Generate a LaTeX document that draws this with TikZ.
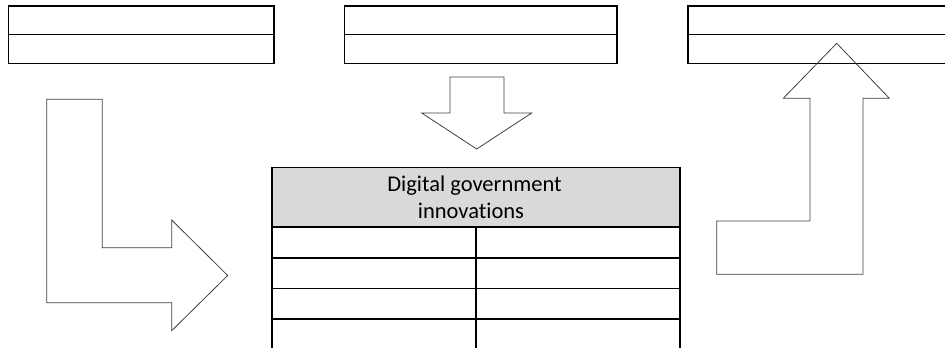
\documentclass[tikz,border=0pt]{standalone}
\usepackage{fontspec}
\setmainfont{Carlito}[Ligatures=NoCommon]
\definecolor{hdrgray}{HTML}{D9D9D9}
\definecolor{arrowline}{HTML}{404040}
\tikzset{
  tbl/.style={line width=1.6pt, black},
  blockarrow/.style={line width=0.8pt, draw=arrowline, line join=miter},
  hdrtext/.style={font=\fontsize{22.5}{27}\selectfont, anchor=base, inner sep=0pt}
}
\begin{document}
\begin{tikzpicture}[x=1pt,y=-1pt]
\useasboundingbox (0,0) rectangle (945,348);
\clip (0,0) rectangle (945,348);
% top tables
\draw[tbl] (8.5,6) rectangle (274,63.5);
\draw[tbl] (8.5,34.5) -- (274,34.5);
\draw[tbl] (344.5,6) rectangle (616.7,63.5);
\draw[tbl] (344.5,34.5) -- (616.7,34.5);
\draw[tbl] (960,6) -- (687.7,6) -- (687.7,63.5) -- (960,63.5);
\draw[tbl] (687.7,34.5) -- (960,34.5);
% central table
\fill[hdrgray] (271.7,167.3) rectangle (680,226.7);
\draw[tbl] (271.7,360) -- (271.7,167.3) -- (680,167.3) -- (680,360);
\draw[tbl] (271.7,226.7) -- (680,226.7);
\draw[tbl] (271.7,257.7) -- (680,257.7);
\draw[tbl] (271.7,288.3) -- (680,288.3);
\draw[tbl] (271.7,319) -- (680,319);
\draw[tbl] (475.7,226.7) -- (475.7,360);
\node[hdrtext] (hdr1) at (474.5,191.5) {Digital government};
\node[hdrtext] (hdr2) at (471,218.5) {innovations};
% down arrow
\draw[blockarrow] (450,77) -- (504,77) -- (504,113) -- (531.7,113) -- (476.7,149)
  -- (421.7,113) -- (450,113) -- cycle;
% left L arrow
\draw[blockarrow] (46.7,99.3) -- (102.3,99.3) -- (102.3,247.7) -- (171.7,247.7)
  -- (171.7,220) -- (227.7,275.5) -- (171.7,330.7) -- (171.7,302.7) -- (46.7,302.7) -- cycle;
% right up arrow
\draw[blockarrow] (716.7,274.3) -- (863,274.3) -- (863,98.3) -- (889.3,98.3)
  -- (836.7,43.3) -- (783.3,98.3) -- (810,98.3) -- (810,221) -- (716.7,221) -- cycle;
\end{tikzpicture}
\end{document}
